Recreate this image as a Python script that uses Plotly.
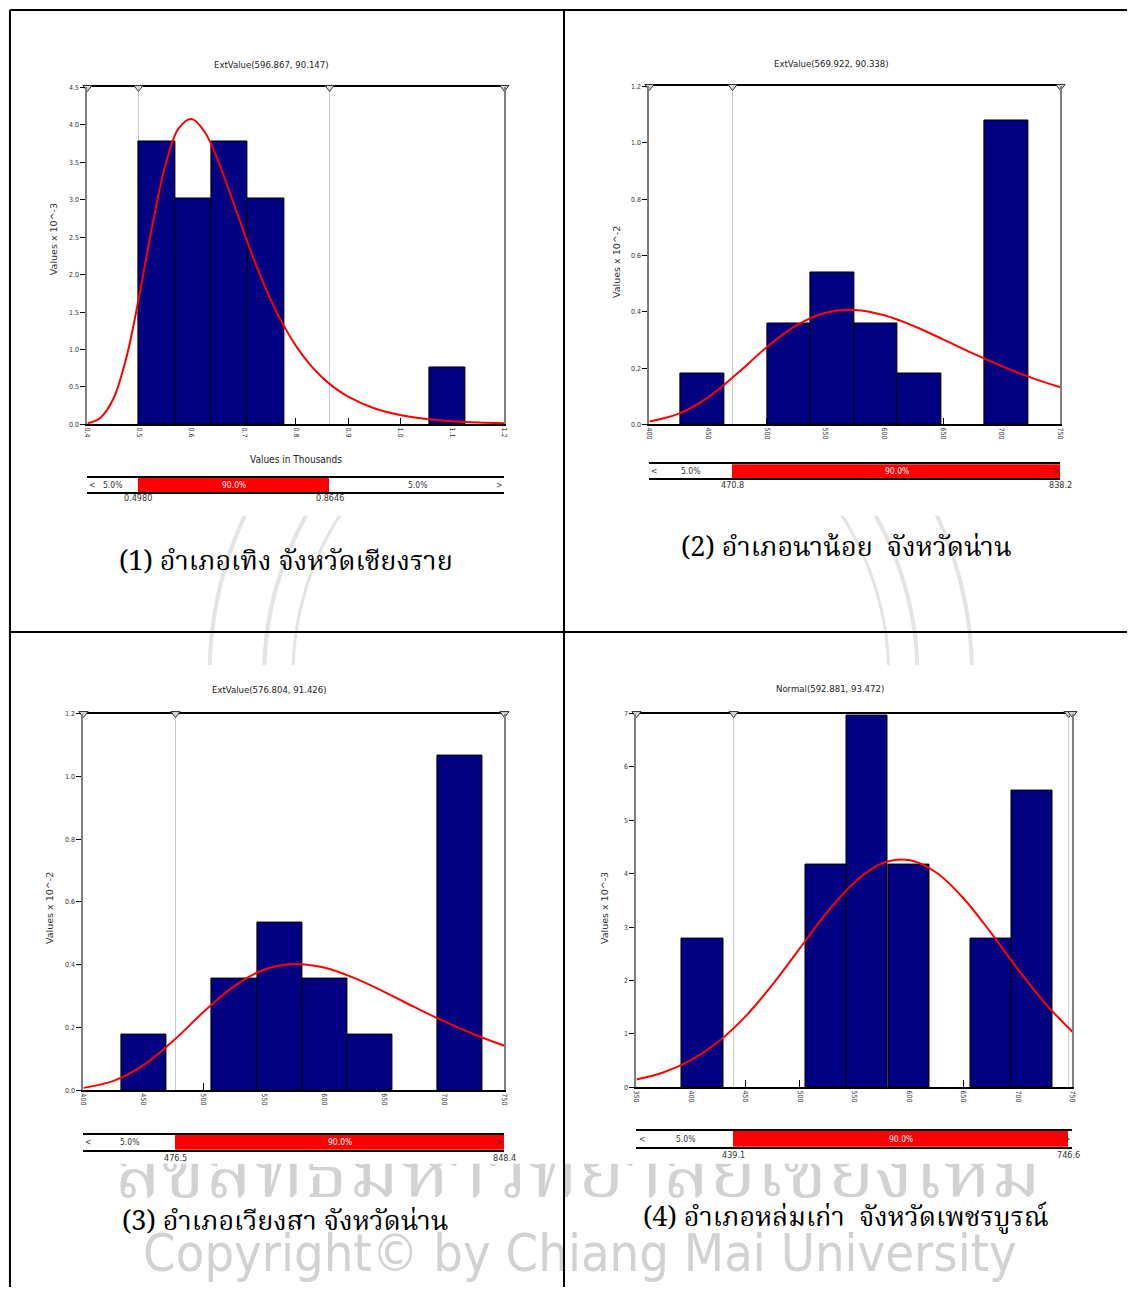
import plotly.graph_objects as go

W, H = 1131, 1291

# ---------------------------------------------------------------- data
p1_title = "ExtValue(596.867, 90.147)"
p1_bin_left = [0.4985, 0.5682, 0.6379, 0.7076, 1.0561]
p1_bin_width = 0.0697
p1_density = [3.776, 3.021, 3.776, 3.021, 0.755]
p1_curve_x = [0.400, 0.425, 0.450, 0.475, 0.500, 0.525, 0.550, 0.575, 0.600, 0.625,
              0.650, 0.675, 0.700, 0.725, 0.750, 0.775, 0.800, 0.825, 0.850, 0.875,
              0.900, 0.950, 1.000, 1.050, 1.100, 1.150, 1.200]
p1_curve_y = [0.014, 0.089, 0.345, 0.899, 1.737, 2.675, 3.471, 3.953, 4.078, 3.905,
              3.533, 3.063, 2.570, 2.104, 1.690, 1.339, 1.049, 0.816, 0.630, 0.484,
              0.371, 0.216, 0.125, 0.072, 0.042, 0.024, 0.014]
p1_pcts = [0.4980, 0.8646]
p1_pct_labels = ["0.4980", "0.8646"]
p1_probs = ["5.0%", "90.0%", "5.0%"]
p1_x_range = [0.4, 1.2]
p1_y_range = [0, 4.5]
p1_x_dtick = 0.1
p1_y_dtick = 0.5
p1_ytitle = "Values x 10^-3"
p1_xtitle = "Values in Thousands"
p1_caption = "(1) อำเภอเทิง จังหวัดเชียงราย"

p2_title = "ExtValue(569.922, 90.338)"
p2_bin_left = [426.5, 500.5, 537.5, 574.5, 611.5, 685.5]
p2_bin_width = 37.0
p2_density = [0.180, 0.360, 0.541, 0.360, 0.180, 1.081]
p2_curve_x = [400, 425, 450, 475, 500, 525, 550, 575, 600, 625, 650, 675, 700, 725, 750]
p2_curve_y = [0.0103, 0.0381, 0.0961, 0.1814, 0.2745, 0.3516, 0.3967, 0.4066, 0.3874,
              0.3494, 0.3021, 0.2531, 0.2070, 0.1662, 0.1316]
p2_pcts = [470.8, 838.2]
p2_pct_labels = ["470.8", "838.2"]
p2_probs = ["5.0%", "90.0%", "5.0%"]
p2_x_range = [400, 750]
p2_y_range = [0, 1.2]
p2_x_dtick = 50
p2_y_dtick = 0.2
p2_ytitle = "Values x 10^-2"
p2_caption = "(2) อำเภอนาน้อย  จังหวัดน่าน"

p3_title = "ExtValue(576.804, 91.426)"
p3_bin_left = [431.9, 506.8, 544.3, 581.8, 619.3, 694.2]
p3_bin_width = 37.47
p3_density = [0.178, 0.356, 0.534, 0.356, 0.178, 1.067]
p3_curve_x = [400, 425, 450, 475, 500, 525, 550, 575, 600, 625, 650, 675, 700, 725, 750]
p3_curve_y = [0.0075, 0.0299, 0.0800, 0.1585, 0.2499, 0.3309, 0.3837, 0.4023, 0.3907,
              0.3578, 0.3135, 0.2655, 0.2192, 0.1775, 0.1415]
p3_pcts = [476.5, 848.4]
p3_pct_labels = ["476.5", "848.4"]
p3_probs = ["5.0%", "90.0%", "5.0%"]
p3_x_range = [400, 750]
p3_y_range = [0, 1.2]
p3_x_dtick = 50
p3_y_dtick = 0.2
p3_ytitle = "Values x 10^-2"
p3_caption = "(3) อำเภอเวียงสา จังหวัดน่าน"

p4_title = "Normal(592.881, 93.472)"
p4_bin_left = [391.6, 505.1, 542.9, 580.8, 656.4, 694.2]
p4_bin_width = 37.83
p4_density = [2.782, 4.174, 6.956, 4.174, 2.782, 5.565]
p4_curve_x = [350, 375, 400, 425, 450, 475, 500, 525, 550, 575, 600, 625, 650, 675,
              700, 725, 750]
p4_curve_y = [0.146, 0.282, 0.508, 0.851, 1.327, 1.927, 2.605, 3.279, 3.842, 4.191,
              4.256, 4.023, 3.541, 2.902, 2.213, 1.572, 1.039]
p4_pcts = [439.1, 746.6]
p4_pct_labels = ["439.1", "746.6"]
p4_probs = ["5.0%", "90.0%", "5.0%"]
p4_x_range = [350, 750]
p4_y_range = [0, 7]
p4_x_dtick = 50
p4_y_dtick = 1
p4_ytitle = "Values x 10^-3"
p4_caption = "(4) อำเภอหล่มเก่า  จังหวัดเพชรบูรณ์"

wm_text_th = "ลิขสิทธิ์มหาวิทยาลัยเชียงใหม่"
wm_text_en = "Copyright© by Chiang Mai University"

# ---------------------------------------------------------------- styles
NARROW = "DejaVu Sans Condensed, Liberation Sans Narrow, Arial Narrow, Liberation Sans, Arial, sans-serif"
WIDE = "DejaVu Sans, Verdana, sans-serif"
THAI = "Noto Serif Thai, Noto Sans Thai, TH Sarabun New, Norasi, Loma, Garuda, serif"
NAVY = "#000080"
DARK = "#333333"


def fx(px):
    return px / W


def fy(py):
    return 1 - py / H


panels = [
    dict(title=p1_title, left=p1_bin_left, w=p1_bin_width, dens=p1_density,
         cx=p1_curve_x, cy=p1_curve_y, pct=p1_pcts, pct_lab=p1_pct_labels,
         probs=p1_probs, xr=p1_x_range, yr=p1_y_range, xdt=p1_x_dtick,
         ydt=p1_y_dtick, xfmt=".1f", yfmt=".1f", ytitle=p1_ytitle,
         xtitle=p1_xtitle, caption=p1_caption,
         box=(84, 84, 504, 423), pbox=(84, 477, 504, 491), title_xy=(269, 61),
         ytitle_xy=(50, 237), cap_xy=(284, 562), lab_y=497, xtitle_y=458),
    dict(title=p2_title, left=p2_bin_left, w=p2_bin_width, dens=p2_density,
         cx=p2_curve_x, cy=p2_curve_y, pct=p2_pcts, pct_lab=p2_pct_labels,
         probs=p2_probs, xr=p2_x_range, yr=p2_y_range, xdt=p2_x_dtick,
         ydt=p2_y_dtick, xfmt="d", yfmt=".1f", ytitle=p2_ytitle,
         xtitle=None, caption=p2_caption,
         box=(650, 83, 1064, 423), pbox=(650, 463, 1064, 477), title_xy=(833, 60),
         ytitle_xy=(617, 260), cap_xy=(848, 548), lab_y=484, xtitle_y=None),
    dict(title=p3_title, left=p3_bin_left, w=p3_bin_width, dens=p3_density,
         cx=p3_curve_x, cy=p3_curve_y, pct=p3_pcts, pct_lab=p3_pct_labels,
         probs=p3_probs, xr=p3_x_range, yr=p3_y_range, xdt=p3_x_dtick,
         ydt=p3_y_dtick, xfmt="d", yfmt=".1f", ytitle=p3_ytitle,
         xtitle=None, caption=p3_caption,
         box=(80, 714, 504, 1093), pbox=(80, 1138, 504, 1153), title_xy=(267, 690),
         ytitle_xy=(46, 910), cap_xy=(284, 1226), lab_y=1161, xtitle_y=None),
    dict(title=p4_title, left=p4_bin_left, w=p4_bin_width, dens=p4_density,
         cx=p4_curve_x, cy=p4_curve_y, pct=p4_pcts, pct_lab=p4_pct_labels,
         probs=p4_probs, xr=p4_x_range, yr=p4_y_range, xdt=p4_x_dtick,
         ydt=p4_y_dtick, xfmt="d", yfmt="d", ytitle=p4_ytitle,
         xtitle=None, caption=p4_caption,
         box=(637, 714, 1076, 1090), pbox=(637, 1134, 1076, 1150), title_xy=(832, 689),
         ytitle_xy=(605, 910), cap_xy=(848, 1222), lab_y=1158, xtitle_y=None),
]

fig = go.Figure()
layout = {}
annotations = []
shapes = []


def axname(kind, n):
    return kind if n == 1 else f"{kind}{n}"


def axkey(kind, n):
    return f"{kind}axis" if n == 1 else f"{kind}axis{n}"


def ann(**kw):
    d = dict(showarrow=False, xanchor="center", yanchor="middle")
    d.update(kw)
    annotations.append(d)


# ---------------- watermark layers (drawn first, underneath everything)
layout["xaxis10"] = dict(domain=[0, 1], range=[0, W], visible=False, anchor="y10",
                         fixedrange=True)
layout["yaxis10"] = dict(domain=[fy(665), fy(515)], range=[665, 515], visible=False,
                         anchor="x10", fixedrange=True)
fig.add_trace(go.Scatter(x=[0], y=[600], mode="markers", marker=dict(opacity=0),
                         xaxis="x10", yaxis="y10", hoverinfo="skip"))
for r, lw in [(329, 4), (384, 4), (300, 3)]:
    shapes.append(dict(type="circle", xref="x10", yref="y10",
                       x0=591 - r, x1=591 + r, y0=676 - r, y1=676 + r,
                       line=dict(color="#e4e4e4", width=lw), layer="below"))

layout["xaxis9"] = dict(domain=[0, 1], range=[0, W], visible=False, anchor="y9",
                        fixedrange=True)
layout["yaxis9"] = dict(domain=[0, fy(1167)], range=[H, 1167], visible=False,
                        anchor="x9", fixedrange=True)
fig.add_trace(go.Scatter(x=[578], y=[1181], mode="text", text=[wm_text_th],
                         textfont=dict(family=THAI, size=78, color="#d2d2d2"),
                         textposition="middle center", cliponaxis=True,
                         xaxis="x9", yaxis="y9", hoverinfo="skip"))
fig.add_trace(go.Scatter(x=[580], y=[1262], mode="text", text=[wm_text_en],
                         textfont=dict(family=NARROW, size=52, color="#d2d2d2"),
                         textposition="middle center", cliponaxis=True,
                         xaxis="x9", yaxis="y9", hoverinfo="skip"))

# ---------------- panels
for i, p in enumerate(panels):
    n = i + 1
    xa, ya = axname("x", n), axname("y", n)
    pn = n + 4
    pxa, pya = f"x{pn}", f"y{pn}"
    l, t, r, b = p["box"]
    xmin, xmax = p["xr"]
    ymin, ymax = p["yr"]
    span = xmax - xmin

    layout[axkey("x", n)] = dict(
        domain=[fx(l), fx(r)], range=p["xr"], anchor=ya, dtick=p["xdt"],
        tick0=xmin, tickformat=p["xfmt"], tickangle=90, ticks="inside",
        ticklen=7, tickwidth=1.2, tickcolor="black", showline=True, mirror=True,
        linecolor="black", linewidth=1.5, showgrid=False, zeroline=False,
        layer="below traces",
        tickfont=dict(family=NARROW, size=7, color=DARK), fixedrange=True)
    layout[axkey("y", n)] = dict(
        domain=[fy(b), fy(t)], range=p["yr"], anchor=xa, dtick=p["ydt"],
        tick0=0, tickformat=p["yfmt"], ticks="outside", ticklen=5,
        tickwidth=1.2, tickcolor="black", showline=True, mirror=True,
        linecolor="#7f7f7f", linewidth=2, showgrid=False, zeroline=False,
        tickfont=dict(family=NARROW, size=7, color=DARK), fixedrange=True)

    centers = [le + p["w"] / 2 for le in p["left"]]
    fig.add_trace(go.Bar(x=centers, y=p["dens"], width=p["w"],
                         marker=dict(color=NAVY, line=dict(color="black", width=1)),
                         xaxis=xa, yaxis=ya, hoverinfo="skip"))
    fig.add_trace(go.Scatter(x=p["cx"], y=p["cy"], mode="lines",
                             line=dict(color="#ff0000", width=2, shape="spline",
                                       smoothing=1.0),
                             xaxis=xa, yaxis=ya, hoverinfo="skip"))

    lo, hi = p["pct"]
    for v in (lo, hi):
        if xmin < v < xmax:
            shapes.append(dict(type="line", xref=xa, yref=f"{ya} domain",
                               x0=v, x1=v, y0=0, y1=1,
                               line=dict(color="#c8c8c8", width=1), layer="below"))
    tri_x = [xmin, lo]
    if hi <= xmax:
        tri_x += [hi, xmax]
    else:
        tri_x += [xmax, xmax + 0.077 * span]
    fig.add_trace(go.Scatter(x=tri_x, y=[ymax] * len(tri_x), mode="markers",
                             marker=dict(symbol="triangle-down", size=8,
                                         color="#d8d8d8",
                                         line=dict(color="#303030", width=1)),
                             cliponaxis=False, xaxis=xa, yaxis=ya,
                             hoverinfo="skip"))

    # probability bar
    pl, pt, pr, pb = p["pbox"]
    layout[f"xaxis{pn}"] = dict(domain=[fx(pl), fx(pr)], range=p["xr"], anchor=pya,
                                showline=True, mirror=True, linecolor="black",
                                linewidth=1.5, ticks="", showticklabels=False,
                                showgrid=False, zeroline=False, fixedrange=True)
    layout[f"yaxis{pn}"] = dict(domain=[fy(pb), fy(pt)], range=[0, 1], anchor=pxa,
                                visible=False, fixedrange=True)
    hi_c = min(hi, xmax)
    fig.add_trace(go.Bar(x=[hi_c - lo], base=[lo], y=[0.5], width=1,
                         orientation="h", marker=dict(color="#ff0000", line=dict(width=0)),
                         xaxis=pxa, yaxis=pya, hoverinfo="skip"))

    pfont = dict(family=NARROW, size=8.5, color=DARK)
    ann(x=(xmin + lo) / 2, y=0.5, xref=pxa, yref=pya, text=p["probs"][0], font=pfont)
    ann(x=(lo + hi_c) / 2, y=0.5, xref=pxa, yref=pya, text=p["probs"][1],
        font=dict(family=NARROW, size=8.5, color="white"))
    if hi < xmax and (xmax - hi) > 0.1 * span:
        ann(x=(hi + xmax) / 2, y=0.5, xref=pxa, yref=pya, text=p["probs"][2],
            font=pfont)
    ann(x=0.012, y=0.5, xref=f"{pxa} domain", yref=pya, text="<", font=pfont)
    ann(x=0.988, y=0.5, xref=f"{pxa} domain", yref=pya, text=">", font=pfont)
    for v, lab in zip(p["pct"], p["pct_lab"]):
        ann(x=min(v, xmax), y=fy(p["lab_y"]), xref=pxa, yref="paper", text=lab,
            font=dict(family=NARROW, size=9, color=DARK))

    tx, ty = p["title_xy"]
    ann(x=fx(tx), y=fy(ty), xref="paper", yref="paper", text=p["title"],
        font=dict(family=NARROW, size=9.5, color="#222222"))
    yx, yy = p["ytitle_xy"]
    ann(x=fx(yx), y=fy(yy), xref="paper", yref="paper", text=p["ytitle"],
        textangle=-90, font=dict(family=WIDE, size=9.5, color=DARK))
    if p["xtitle"]:
        ann(x=(l + r) / 2 / W, y=fy(p["xtitle_y"]), xref="paper", yref="paper",
            text=p["xtitle"], font=dict(family=NARROW, size=10, color="#222222"))
    cx, cy = p["cap_xy"]
    ann(x=fx(cx), y=fy(cy), xref="paper", yref="paper", text=p["caption"],
        font=dict(family=THAI, size=27, color="black"))

# ---------------- table frame lines
for (x0, y0, x1, y1) in [(6, 6, W, 6), (6, 6, 6, H), (564, 6, 564, H), (6, 632, W, 632)]:
    shapes.append(dict(type="line", xref="paper", yref="paper",
                       x0=fx(x0), y0=fy(y0), x1=fx(x1), y1=fy(y1),
                       line=dict(color="black", width=2)))

layout.update(dict(
    width=W, height=H, autosize=False,
    margin=dict(l=0, r=0, t=0, b=0, pad=0),
    paper_bgcolor="white", plot_bgcolor="rgba(0,0,0,0)",
    showlegend=False, bargap=0,
    annotations=annotations, shapes=shapes,
))
fig.update_layout(layout)

fig.write_html("out.html", config=dict(displayModeBar=False))
